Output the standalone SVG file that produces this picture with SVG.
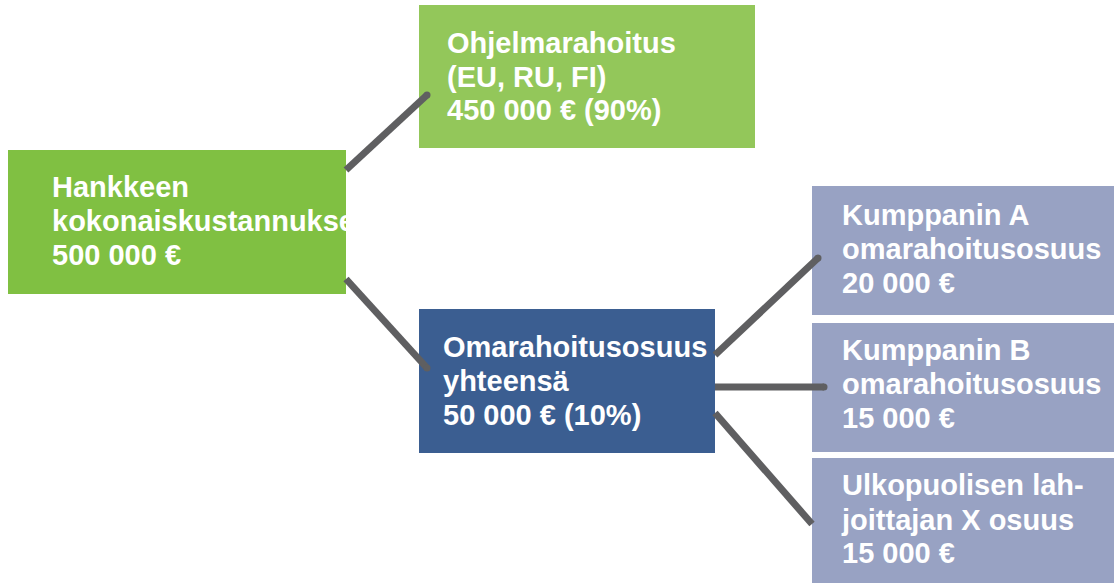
<svg xmlns="http://www.w3.org/2000/svg" width="1114" height="583" viewBox="0 0 1114 583">
<style>
text{font-family:"Liberation Sans",Arial,sans-serif;font-weight:bold;font-size:29px;fill:#ffffff}
.conn{stroke:#5f5f61;stroke-width:7;fill:none;stroke-linecap:butt}
</style>
<defs>
<marker id="dot" markerWidth="2" markerHeight="2" refX="1" refY="1" markerUnits="strokeWidth" viewBox="0 0 2 2">
<circle cx="1" cy="1" r="0.5" fill="#5f5f61"/>
</marker>
<clipPath id="clip1"><rect x="8" y="150" width="338" height="144"/></clipPath>
</defs>
<rect width="1114" height="583" fill="#ffffff"/>
<g id="node-total">
<rect x="8" y="150" width="338" height="144" fill="#80c042"/>
<g clip-path="url(#clip1)">
<text x="52" y="197">Hankkeen</text>
<text x="52" y="231">kokonaiskustannukset</text>
<text x="52" y="265">500 000 €</text>
</g>
</g>
<g id="node-program">
<rect x="419" y="5" width="336" height="143" fill="#93c75a"/>
<text x="447" y="53">Ohjelmarahoitus</text>
<text x="447" y="87">(EU, RU, FI)</text>
<text x="447" y="120">450 000 € (90%)</text>
</g>
<g id="node-own">
<rect x="419" y="309" width="296" height="144" fill="#3b5e91"/>
<text x="443" y="357">Omarahoitusosuus</text>
<text x="443" y="391">yhteensä</text>
<text x="443" y="425">50 000 € (10%)</text>
</g>
<g id="node-a">
<rect x="812" y="186" width="302" height="129" fill="#98a2c3"/>
<text x="842" y="225">Kumppanin A</text>
<text x="842" y="259">omarahoitusosuus</text>
<text x="842" y="293">20 000 €</text>
</g>
<g id="node-b">
<rect x="812" y="323" width="302" height="129" fill="#98a2c3"/>
<text x="842" y="360">Kumppanin B</text>
<text x="842" y="394">omarahoitusosuus</text>
<text x="842" y="428">15 000 €</text>
</g>
<g id="node-c">
<rect x="812" y="458" width="302" height="125" fill="#98a2c3"/>
<text x="842" y="495">Ulkopuolisen lah-</text>
<text x="842" y="530">joittajan X osuus</text>
<text x="842" y="563">15 000 €</text>
</g>
<g id="connectors">
<line class="conn" x1="346" y1="170" x2="427" y2="95" marker-end="url(#dot)"/>
<line class="conn" x1="346" y1="279" x2="427" y2="368" marker-end="url(#dot)"/>
<line class="conn" x1="715" y1="355" x2="818" y2="258" marker-end="url(#dot)"/>
<line class="conn" x1="715" y1="387" x2="824" y2="387" marker-end="url(#dot)"/>
<line class="conn" x1="715" y1="413" x2="812" y2="524"/>
</g>
</svg>
